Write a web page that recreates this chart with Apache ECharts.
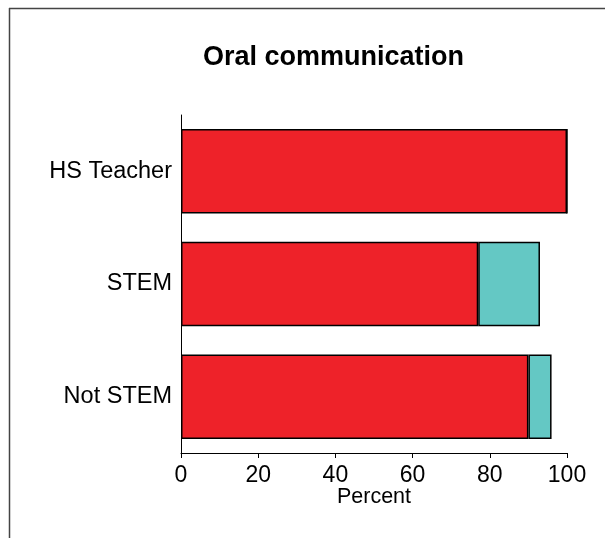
<!DOCTYPE html>
<html>
<head>
<meta charset="utf-8">
<script src="https://cdn.jsdelivr.net/npm/echarts@6/dist/echarts.min.js"></script>
<style>html,body{margin:0;padding:0;background:#fff;}#c{width:605px;height:538px;}</style>
</head>
<body>
<div id="c"></div>
<script>
const categories = ['Not STEM', 'STEM', 'HS Teacher'];
const redValues = [90, 77, 100];
const tealValues = [6, 16, 0];
const xTicks = [0, 20, 40, 60, 80, 100];

const chart = echarts.init(document.getElementById('c'), null, {renderer: 'canvas'});
const font = 'Liberation Sans, Arial, Helvetica, sans-serif';
chart.setOption({
  animation: false,
  backgroundColor: '#fff',
  title: {
    text: 'Oral communication',
    left: 198, top: 39,
    textStyle: {fontFamily: font, fontSize: 27, fontWeight: 'bold', color: '#000'}
  },
  grid: {left: 181, right: 38, top: 115, bottom: 85, containLabel: false},
  xAxis: {
    type: 'value', min: xTicks[0], max: xTicks[xTicks.length - 1], interval: 20,
    name: 'Percent', nameLocation: 'middle', nameGap: 33, nameMoveOverlap: false,
    nameTextStyle: {fontFamily: font, fontSize: 21.5, color: '#000'},
    axisLine: {show: true, lineStyle: {color: '#000', width: 1}},
    axisTick: {show: true, length: 5, lineStyle: {color: '#000'}},
    axisLabel: {fontFamily: font, fontSize: 23, color: '#000', margin: 11},
    splitLine: {show: false}
  },
  yAxis: {
    type: 'category', data: categories,
    axisLine: {show: true, lineStyle: {color: '#000', width: 1}},
    axisTick: {show: false},
    axisLabel: {fontFamily: font, fontSize: 23.5, color: '#000', margin: 9}
  },
  series: [
    {type: 'bar', stack: 's', data: redValues, barCategoryGap: '25%',
     itemStyle: {color: '#EE2229', borderColor: '#000', borderWidth: 1.5}},
    {type: 'bar', stack: 's', data: tealValues,
     itemStyle: {color: '#64C8C4', borderColor: '#000', borderWidth: 1.5}}
  ],
  graphic: [
    {type: 'line', shape: {x1: 9, y1: 8.5, x2: 605, y2: 8.5}, style: {stroke: '#444', lineWidth: 1.5}},
    {type: 'line', shape: {x1: 9.5, y1: 8, x2: 9.5, y2: 538}, style: {stroke: '#444', lineWidth: 1.5}}
  ]
});
</script>
</body>
</html>
